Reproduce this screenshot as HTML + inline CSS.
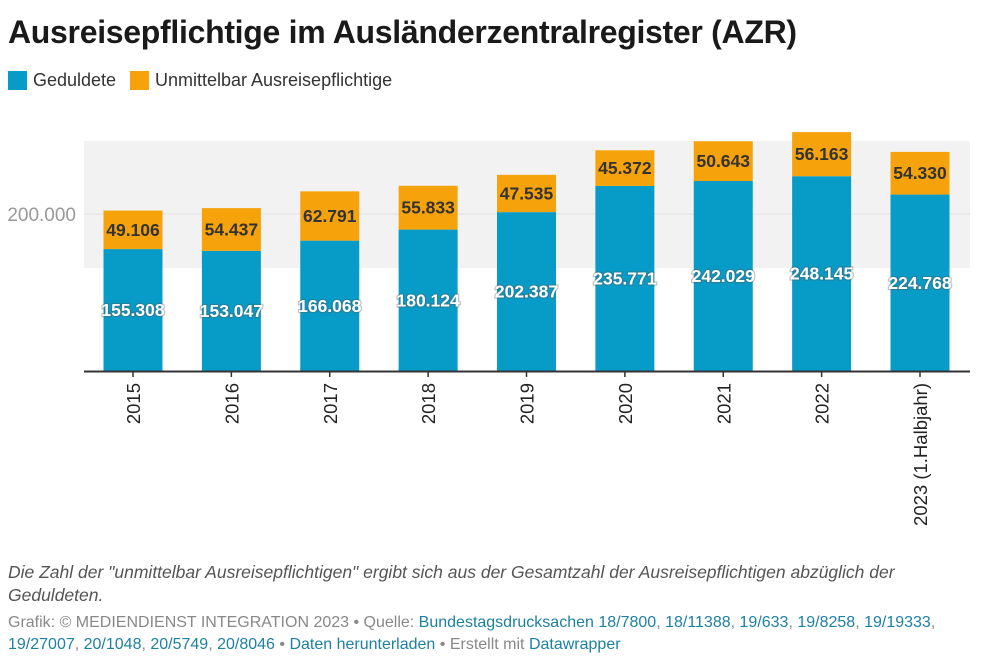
<!DOCTYPE html>
<html><head><meta charset="utf-8"><style>
body{margin:0;width:1000px;height:664px;background:#fff;font-family:"Liberation Sans",Arial,sans-serif;overflow:hidden;position:relative}
.t{position:absolute;white-space:nowrap}
a{color:#1d81a2;text-decoration:none}
</style></head><body>
<div class="t" style="left:8px;top:14px;font-size:32px;font-weight:bold;color:#1a1a1a;letter-spacing:-0.3px">Ausreisepflichtige im Ausländerzentralregister (AZR)</div>
<div class="t" style="left:8px;top:70px;font-size:18px;color:#333"><span style="display:inline-block;width:19px;height:19px;background:#079cc8;vertical-align:-4px;margin-right:6px"></span>Geduldete</div>
<div class="t" style="left:130px;top:70px;font-size:18px;color:#333"><span style="display:inline-block;width:19px;height:19px;background:#f5a20b;vertical-align:-4px;margin-right:6px"></span>Unmittelbar Ausreisepflichtige</div>
<svg id="chart" width="1000" height="560" style="position:absolute;left:0;top:0"></svg>
<div class="t" style="left:8px;top:561px;font-size:17.5px;font-style:italic;color:#555;line-height:23px;white-space:normal;width:920px">Die Zahl der "unmittelbar Ausreisepflichtigen" ergibt sich aus der Gesamtzahl der Ausreisepflichtigen abzüglich der Geduldeten.</div>
<div class="t" style="left:8px;top:612px;font-size:16px;color:#888;line-height:22px;white-space:normal;width:965px">Grafik: © MEDIENDIENST INTEGRATION 2023 • Quelle: <a>Bundestagsdrucksachen 18/7800</a>, <a>18/11388</a>, <a>19/633</a>, <a>19/8258</a>, <a>19/19333</a>, <a>19/27007</a>, <a>20/1048</a>, <a>20/5749</a>, <a>20/8046</a> • <a>Daten herunterladen</a> • Erstellt mit <a>Datawrapper</a></div>
<script>
const categories=["2015","2016","2017","2018","2019","2020","2021","2022","2023 (1.Halbjahr)"];
const geduldete=[155308,153047,166068,180124,202387,235771,242029,248145,224768];
const unmittelbar=[49106,54437,62791,55833,47535,45372,50643,56163,54330];
const yTicks=[200000];
const NS="http://www.w3.org/2000/svg";
const svg=document.getElementById('chart');
const base=371,k=157/200000;
const y=v=>base-v*k;
const x0=133,step=(920-133)/8,bw=59;
const xc=i=>x0+i*step;
function mk(t,a){const e=document.createElementNS(NS,t);for(const n in a)e.setAttribute(n,a[n]);svg.appendChild(e);return e;}
const fmt=v=>String(v).replace(/\B(?=(\d{3})+(?!\d))/g,'.');
let band=mk('rect',{x:84,y:141,width:886,height:127,fill:'#f2f2f2'});

yTicks.forEach(v=>{
 let g=mk('line',{x1:84,x2:970,y1:y(v),y2:y(v),stroke:'#e2e2e2'});
 
 let t=mk('text',{x:76,y:y(v)+7,'text-anchor':'end','font-size':19,fill:'#999'});t.textContent=fmt(v);
 
});
categories.forEach((c,i)=>{
 const cx=xc(i),g=geduldete[i],u=unmittelbar[i];
 let b=mk('rect',{x:cx-bw/2,y:y(g),width:bw,height:g*k,fill:'#079cc8'});
 
 let o=mk('rect',{x:cx-bw/2,y:y(g+u),width:bw,height:u*k,fill:'#f5a20b'});
 
 let tl=mk('text',{x:cx,y:y(g/2)+6,'text-anchor':'middle','font-size':17.5,'font-weight':'bold',fill:'#fff',stroke:'#555','stroke-width':2.5,'paint-order':'stroke','stroke-opacity':0.35});tl.textContent=fmt(g);
 
 let ol=mk('text',{x:cx,y:y(g+u/2)+6,'text-anchor':'middle','font-size':17.5,'font-weight':'bold',fill:'#333'});ol.textContent=fmt(u);
 
 let tk=mk('line',{x1:cx,x2:cx,y1:base,y2:base+6,stroke:'#333','stroke-width':1.5});
 
 let xl=mk('text',{x:0,y:0,'text-anchor':'end','font-size':18.5,fill:'#222',transform:`translate(${cx+7},${base+12}) rotate(-90)`});xl.textContent=c;
 
});
let ax=mk('line',{x1:84,x2:970,y1:base+0.5,y2:base+0.5,stroke:'#333','stroke-width':2});

</script>
</body></html>
